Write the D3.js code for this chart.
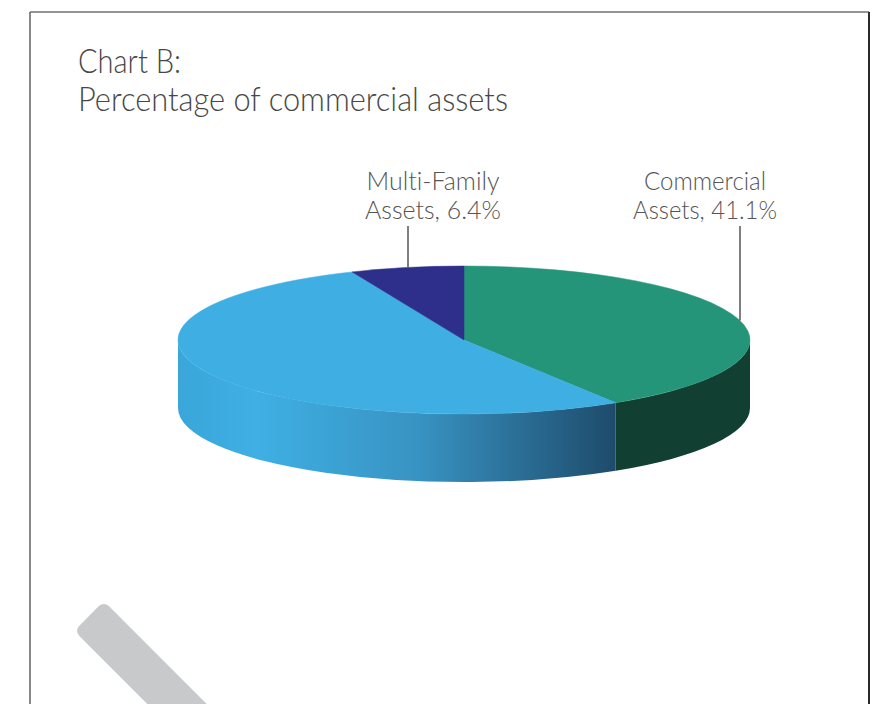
<!DOCTYPE html>
<html>
<head>
<meta charset="utf-8">
<script src="https://cdn.jsdelivr.net/npm/d3@7"></script>
<style>
  html, body { margin: 0; padding: 0; background: #fff; }
  svg { display: block; }
  text { font-variant-ligatures: none; font-feature-settings: "liga" 0, "clig" 0; }
</style>
</head>
<body>
<svg id="chart" width="881" height="704"></svg>
<script>
// ---- data ----
const titleLines = ["Chart B:", "Percentage of commercial assets"];
const categories = ["Commercial Assets", "Other Assets", "Multi-Family Assets"];
const values = [41.1, 52.5, 6.4];
const labelLines = [["Commercial", "Assets, 41.1%"], null, ["Multi-Family", "Assets, 6.4%"]];
const topColors = ["#25957a", "#3fafe3", "#2e2f8b"];
const sideColors = ["#113f31", "url(#blueSide)", "#1d1f60"];

// ---- layout ----
const svg = d3.select("#chart");
const W = 881, H = 704;
const cx = 464, cy = 340, rx = 286, ry = 74, depth = 68;
const font = "Lato, 'Open Sans', sans-serif";
const titleWidths = [103, 430];
const labelPos = [{ lx: 740, tx: 705, widths: [122, 144] }, null, { lx: 408, tx: 433, widths: [133, 136] }];

// frame
svg.append("line").attr("x1", 30).attr("y1", 12).attr("x2", 869).attr("y2", 12)
  .attr("stroke", "#707070").attr("stroke-width", 1.5);
svg.append("line").attr("x1", 30).attr("y1", 12).attr("x2", 30).attr("y2", H)
  .attr("stroke", "#606060").attr("stroke-width", 1.5);
svg.append("line").attr("x1", 869).attr("y1", 12).attr("x2", 869).attr("y2", H)
  .attr("stroke", "#2a2a2a").attr("stroke-width", 2);

// decorative grey bar
svg.append("rect")
  .attr("x", -21).attr("y", 0).attr("width", 42).attr("height", 200).attr("rx", 7)
  .attr("fill", "#c8c9cb")
  .attr("transform", "translate(89,616) rotate(-45)");

// title
svg.append("g").selectAll("text").data(titleLines).join("text")
  .attr("x", 78).attr("y", (d, i) => 73 + i * 38)
  .attr("font-family", font).attr("font-weight", 300).attr("font-size", 33)
  .attr("textLength", (d, i) => titleWidths[i]).attr("lengthAdjust", "spacingAndGlyphs")
  .attr("fill", "#474747")
  .text(d => d);

// gradient for blue side
const defs = svg.append("defs");
const grad = defs.append("linearGradient").attr("id", "blueSide")
  .attr("gradientUnits", "userSpaceOnUse")
  .attr("x1", cx - rx).attr("x2", 616).attr("y1", 0).attr("y2", 0);
[[0, "#3aa6da"], [0.18, "#3fafe4"], [0.55, "#3893c2"], [1, "#1e4b6b"]].forEach(s =>
  grad.append("stop").attr("offset", s[0]).attr("stop-color", s[1]));

// pie
const pie = d3.pie().sort(null).startAngle(0).endAngle(2 * Math.PI);
const arcs = pie(values);
const px = a => cx + rx * Math.sin(a);
const py = (a, dy = 0) => cy - ry * Math.cos(a) + dy;

function topPath(a0, a1) {
  const large = (a1 - a0) > Math.PI ? 1 : 0;
  return `M${cx},${cy}L${px(a0)},${py(a0)}A${rx},${ry} 0 ${large} 1 ${px(a1)},${py(a1)}Z`;
}
function sidePath(a0, a1) {
  const s = Math.max(a0, Math.PI / 2), e = Math.min(a1, 3 * Math.PI / 2);
  if (e <= s) return null;
  const large = (e - s) > Math.PI ? 1 : 0;
  return `M${px(s)},${py(s)}A${rx},${ry} 0 ${large} 1 ${px(e)},${py(e)}` +
    `L${px(e)},${py(e, depth)}A${rx},${ry} 0 ${large} 0 ${px(s)},${py(s, depth)}Z`;
}

const g = svg.append("g");
g.selectAll("path.side").data(arcs).join("path")
  .attr("class", "side")
  .attr("d", d => sidePath(d.startAngle, d.endAngle))
  .attr("fill", (d, i) => sideColors[i]);
g.selectAll("path.top").data(arcs).join("path")
  .attr("class", "top")
  .attr("d", d => topPath(d.startAngle, d.endAngle))
  .attr("fill", (d, i) => topColors[i])
  .attr("stroke", (d, i) => topColors[i]).attr("stroke-width", 0.5);

// labels with leader lines
arcs.forEach((d, i) => {
  if (!labelLines[i]) return;
  const p = labelPos[i];
  const yEdge = cy - ry * Math.sqrt(1 - Math.pow((p.lx - cx) / rx, 2));
  svg.append("line").attr("x1", p.lx).attr("x2", p.lx).attr("y1", 226).attr("y2", yEdge)
    .attr("stroke", "#555").attr("stroke-width", 1.5);
  svg.append("g").selectAll("text").data(labelLines[i]).join("text")
    .attr("x", p.tx).attr("y", (s, j) => 190 + j * 29)
    .attr("text-anchor", "middle")
    .attr("font-family", font).attr("font-weight", 300).attr("font-size", 26)
    .attr("textLength", (s, j) => p.widths[j]).attr("lengthAdjust", "spacingAndGlyphs")
    .attr("fill", "#555")
    .text(s => s);
});
</script>
</body>
</html>
